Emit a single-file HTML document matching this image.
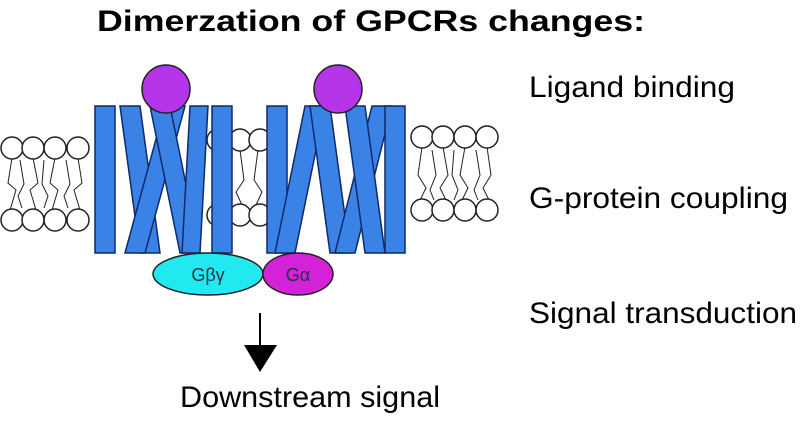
<!DOCTYPE html>
<html><head><style>body{margin:0;background:#fff}svg{display:block}</style></head>
<body>
<svg width="800" height="423" viewBox="0 0 800 423" xmlns="http://www.w3.org/2000/svg" font-family="Liberation Sans, Arial, sans-serif">
<g fill="#fff" stroke="#222" stroke-width="1.5">
  <path d="M12 158 L8 183 L16 190 L10 210 M33 158 L38 183 L30 190 L36 210 M55 158 L50 183 L58 190 L52 210 M78 158 L82 183 L74 190 L80 210 M20 160 L24 184 L18 196 L22 208 M44 160 L42 184 L48 196 L44 208 M66 160 L70 184 L64 196 L68 208" fill="none" stroke-width="1"/>
  <circle cx="12" cy="148" r="11"/><circle cx="33" cy="148" r="11"/><circle cx="55" cy="148" r="11"/><circle cx="78" cy="148" r="11"/>
  <circle cx="12" cy="220" r="11"/><circle cx="33" cy="220" r="11"/><circle cx="55" cy="220" r="11"/><circle cx="78" cy="220" r="11"/>
  <path d="M218 150 L214 180 L222 192 L216 205 M240 150 L244 180 L236 192 L242 205 M258 150 L254 180 L262 192 L256 205" fill="none" stroke-width="1"/>
  <circle cx="218" cy="140" r="11"/><circle cx="240" cy="140" r="11"/><circle cx="260" cy="140" r="11"/>
  <circle cx="218" cy="215" r="11"/><circle cx="240" cy="215" r="11"/><circle cx="260" cy="215" r="11"/>
  <path d="M422 147 L418 175 L426 188 L420 200 M443 147 L448 175 L440 188 L446 200 M465 147 L460 175 L468 188 L462 200 M487 147 L491 175 L483 188 L489 200 M432 150 L436 175 L430 190 L434 200 M454 150 L452 175 L458 190 L454 200 M476 150 L480 175 L474 190 L478 200" fill="none" stroke-width="1"/>
  <circle cx="422" cy="137" r="11"/><circle cx="443" cy="137" r="11"/><circle cx="465" cy="137" r="11"/><circle cx="487" cy="137" r="11"/>
  <circle cx="422" cy="210" r="11"/><circle cx="443" cy="210" r="11"/><circle cx="465" cy="210" r="11"/><circle cx="487" cy="210" r="11"/>
</g>
<g fill="#3b82e6" stroke="#0d2a6a" stroke-width="1.5">
  <rect x="95" y="106" width="20" height="147"/>
  <polygon points="120,106 140,106 160,253 140,253"/>
  <polygon points="165,106 185,106 145,253 125,253"/>
  <polygon points="150,106 170,106 200,253 180,253"/>
  <polygon points="190,106 208,106 200,253 182,253"/>
  <rect x="212" y="106" width="20" height="147"/>
  <rect x="267" y="106" width="20" height="147"/>
  <polygon points="305,106 325,106 295,253 275,253"/>
  <polygon points="310,106 330,106 350,253 330,253"/>
  <polygon points="372,106 392,106 355,253 335,253"/>
  <polygon points="345,106 365,106 385,253 365,253"/>
  <rect x="385" y="106" width="20" height="147"/>
</g>
<g stroke="#222" stroke-width="1.5">
  <circle cx="166" cy="89" r="24" fill="#b535e8"/>
  <circle cx="338" cy="89" r="24" fill="#b535e8"/>
  <ellipse cx="208" cy="274" rx="55" ry="21" fill="#22e8ef"/>
  <ellipse cx="298" cy="274" rx="35" ry="21" fill="#d422d8"/>
</g>
<text x="208" y="281" font-size="18" text-anchor="middle" fill="#234">Gβγ</text>
<text x="298" y="281" font-size="18" text-anchor="middle" fill="#234">Gα</text>
<text x="97" y="31" font-size="30" font-weight="bold" textLength="548" lengthAdjust="spacingAndGlyphs">Dimerzation of GPCRs changes:</text>
<text x="529" y="97" font-size="30" textLength="206" lengthAdjust="spacingAndGlyphs">Ligand binding</text>
<text x="529" y="208" font-size="30" textLength="259" lengthAdjust="spacingAndGlyphs">G-protein coupling</text>
<text x="529" y="323" font-size="30" textLength="268" lengthAdjust="spacingAndGlyphs">Signal transduction</text>
<line x1="260" y1="313" x2="260" y2="348" stroke="#000" stroke-width="2"/>
<polygon points="244,345 277,345 260,372" fill="#000"/>
<text x="180" y="407" font-size="30" textLength="260" lengthAdjust="spacingAndGlyphs">Downstream signal</text>
</svg>
</body></html>
